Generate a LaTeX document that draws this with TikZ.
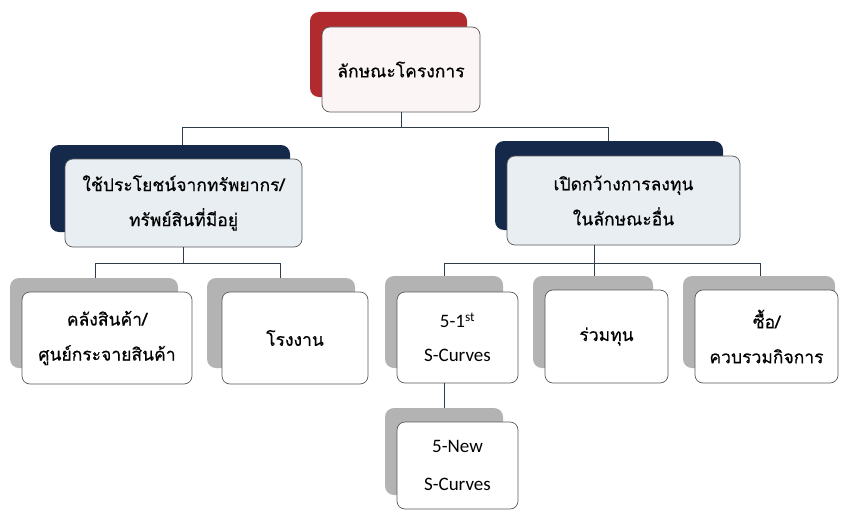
\documentclass[tikz,border=0pt]{standalone}
\usepackage{fontspec}
\newfontfamily\thaifont[Script=Thai,FakeBold=0.5]{Loma}
\newfontfamily\latfont{Carlito}
\definecolor{redback}{HTML}{B02A2E}
\definecolor{navyback}{HTML}{15294A}
\definecolor{grayback}{HTML}{B3B3B3}
\definecolor{frameline}{HTML}{5A5A5A}
\definecolor{linkline}{HTML}{2E3C4A}
\definecolor{l2fill}{HTML}{E9EEF3}
\definecolor{topfill}{HTML}{FBF5F6}
\begin{document}
\begin{tikzpicture}[x=1pt,y=-1pt,
  backbox/.style={rectangle,rounded corners=9pt,inner sep=0pt,draw=none},
  frontbox/.style={rectangle,rounded corners=8pt,inner sep=0pt,draw=frameline,line width=0.7pt,fill=white,align=center,font=\thaifont\fontsize{17.5}{35}\selectfont},
  latbox/.style={font=\latfont\fontsize{19}{34}\selectfont},
  link/.style={draw=linkline,line width=0.9pt}]
\useasboundingbox (0,0) rectangle (842,511);
\fill[white] (0,0) rectangle (842,511);

% top
\node[backbox,fill=redback,minimum width=157pt,minimum height=85pt] (t0b) at (388.5,54.5) {};
\node[frontbox,fill=topfill,minimum width=158pt,minimum height=85pt] (t0) at (401,69.5) {ลักษณะโครงการ};

% level 2
\node[backbox,fill=navyback,minimum width=240pt,minimum height=87pt] (la-b) at (170,188.5) {};
\node[frontbox,fill=l2fill,minimum width=237pt,minimum height=88pt] (la) at (183.5,203) {ใช้ประโยชน์จากทรัพยากร/\\ทรัพย์สินที่มีอยู่};
\node[backbox,fill=navyback,minimum width=228pt,minimum height=89pt] (lb-b) at (609,185.5) {};
\node[frontbox,fill=l2fill,minimum width=233pt,minimum height=89pt] (lb) at (623.5,200.5) {เปิดกว้างการลงทุน\\ในลักษณะอื่น};

% level 3
\node[backbox,fill=grayback,minimum width=168pt,minimum height=90pt] (a-b) at (94,323) {};
\node[frontbox,minimum width=170pt,minimum height=92pt] (a) at (107,338) {คลังสินค้า/\\ศูนย์กระจายสินค้า};
\node[backbox,fill=grayback,minimum width=148pt,minimum height=90pt] (b-b) at (281,323) {};
\node[frontbox,minimum width=146pt,minimum height=92pt] (b) at (295,338) {โรงงาน};
\node[backbox,fill=grayback,minimum width=118pt,minimum height=92pt] (c-b) at (444,322) {};
\node[frontbox,latbox,minimum width=121pt,minimum height=91pt] (c) at (457.5,337.5) {5-1\textsuperscript{st}\\S-Curves};
\node[backbox,fill=grayback,minimum width=120pt,minimum height=92pt] (d-b) at (593,322) {};
\node[frontbox,minimum width=123pt,minimum height=93pt] (d) at (606.5,336.5) {ร่วมทุน};
\node[backbox,fill=grayback,minimum width=152pt,minimum height=92pt] (e-b) at (759,322) {};
\node[frontbox,minimum width=143pt,minimum height=93pt] (e) at (766.5,336.5) {ซื้อ/\\ควบรวมกิจการ};

% level 4
\node[backbox,fill=grayback,minimum width=118pt,minimum height=87pt] (f-b) at (444,451.5) {};
\node[frontbox,latbox,minimum width=121pt,minimum height=87pt,font=\latfont\fontsize{19}{38}\selectfont] (f) at (457.5,465.5) {5-New\\S-Curves};

% connectors
\coordinate (j0) at (401,127);
\coordinate (ja) at (182,127);
\coordinate (jb) at (608,127);
\draw[link] (t0.south) -- (j0);
\draw[link] (ja) -- (jb);
\draw[link] (ja) -- (la-b.north -| ja);
\draw[link] (jb) -- (lb-b.north -| jb);

\coordinate (ka) at (183,263);
\coordinate (ka1) at (95,263);
\coordinate (ka2) at (280,263);
\draw[link] (la.south -| ka) -- (ka);
\draw[link] (ka1) -- (ka2);
\draw[link] (ka1) -- (a-b.north -| ka1);
\draw[link] (ka2) -- (b-b.north -| ka2);

\coordinate (kb) at (594,263);
\coordinate (kb1) at (444,263);
\coordinate (kb2) at (760,263);
\draw[link] (lb.south -| kb) -- (kb);
\draw[link] (kb1) -- (kb2);
\draw[link] (kb1) -- (c-b.north -| kb1);
\draw[link] (kb) -- (d-b.north -| kb);
\draw[link] (kb2) -- (e-b.north -| kb2);

\draw[link] (c.south -| c-b.center) -- (f-b.north);
\end{tikzpicture}
\end{document}
